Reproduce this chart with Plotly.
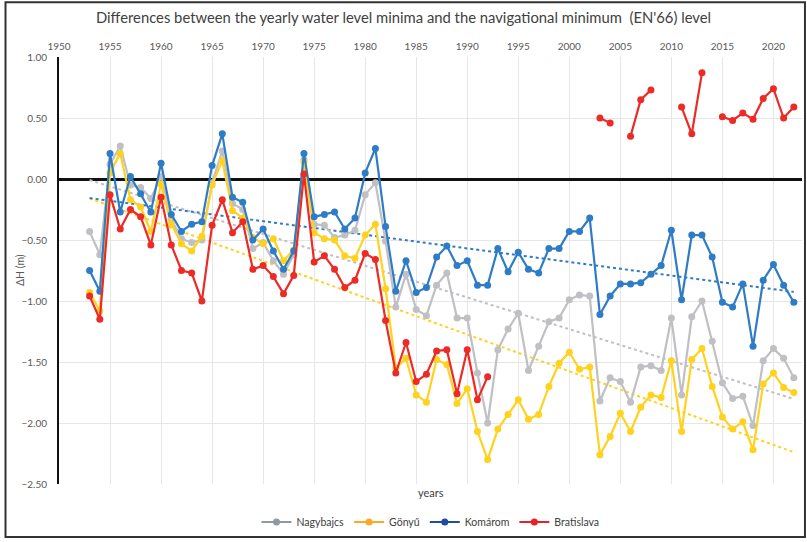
import plotly.graph_objects as go
import numpy as np

years = list(range(1953, 2023))

nagybajcs = [
    -0.43, -0.62, 0.12, 0.27, -0.05, -0.07, -0.16, 0.02, -0.33, -0.49,
    -0.52, -0.50, -0.03, 0.23, -0.20, -0.25, -0.57, -0.52, -0.67, -0.78,
    -0.62, 0.16, -0.37, -0.38, -0.48, -0.46, -0.42, -0.13, -0.03, -0.51,
    -1.05, -0.78, -1.07, -1.12, -0.87, -0.77, -1.14, -1.14, -1.59, -2.00,
    -1.40, -1.23, -1.10, -1.57, -1.37, -1.17, -1.14, -0.99, -0.95, -0.96,
    -1.82, -1.63, -1.66, -1.83, -1.54, -1.53, -1.57, -1.14, -1.77, -1.13,
    -1.00, -1.33, -1.67, -1.80, -1.78, -2.02, -1.49, -1.39, -1.47, -1.63,
]
gonyu = [
    -0.93, -1.08, 0.05, 0.21, -0.17, -0.23, -0.43, -0.04, -0.37, -0.53,
    -0.59, -0.47, -0.05, 0.15, -0.26, -0.32, -0.48, -0.53, -0.49, -0.67,
    -0.58, 0.14, -0.44, -0.49, -0.50, -0.63, -0.65, -0.46, -0.37, -0.90,
    -1.55, -1.47, -1.77, -1.83, -1.48, -1.52, -1.84, -1.72, -2.07, -2.30,
    -2.05, -1.93, -1.81, -1.97, -1.93, -1.70, -1.51, -1.42, -1.56, -1.54,
    -2.26, -2.11, -1.92, -2.07, -1.87, -1.77, -1.79, -1.49, -2.07, -1.48,
    -1.39, -1.70, -1.95, -2.05, -1.99, -2.22, -1.68, -1.59, -1.71, -1.75,
]
komarom = [
    -0.75, -0.92, 0.21, -0.27, 0.02, -0.12, -0.27, 0.13, -0.29, -0.43,
    -0.37, -0.35, 0.11, 0.37, -0.15, -0.19, -0.50, -0.41, -0.59, -0.74,
    -0.59, 0.21, -0.31, -0.29, -0.27, -0.41, -0.32, 0.05, 0.25, -0.39,
    -0.92, -0.67, -0.93, -0.89, -0.64, -0.55, -0.71, -0.67, -0.87, -0.87,
    -0.57, -0.76, -0.60, -0.74, -0.77, -0.57, -0.57, -0.43, -0.43, -0.32,
    -1.11, -0.96, -0.86, -0.86, -0.85, -0.78, -0.71, -0.42, -0.99, -0.46,
    -0.46, -0.64, -1.01, -1.05, -0.86, -1.37, -0.83, -0.70, -0.87, -1.01,
]
bratislava = [
    -0.96, -1.15, -0.13, -0.41, -0.25, -0.31, -0.54, -0.15, -0.54, -0.75,
    -0.77, -1.00, -0.38, -0.17, -0.44, -0.35, -0.74, -0.71, -0.80, -0.94,
    -0.79, 0.04, -0.68, -0.63, -0.74, -0.89, -0.83, -0.61, -0.66, -1.16,
    -1.59, -1.34, -1.66, -1.60, -1.41, -1.40, -1.76, -1.40, -1.81, -1.62,
    None, None, None, None, None, None, None, None, None, None,
    0.50, 0.46, None, 0.35, 0.65, 0.73, None, None, 0.59, 0.37,
    0.87, None, 0.51, 0.48, 0.54, 0.49, 0.66, 0.74, 0.50, 0.59,
]

series = [
    ("Nagybajcs", nagybajcs, "#C0C0C4", "#8E99A4", True),
    ("Gönyű", gonyu, "#FFD21F", "#FFA726", True),
    ("Komárom", komarom, "#2F7CC6", "#1F4E9E", True),
    ("Bratislava", bratislava, "#EC2A26", "#E8202A", False),
]

font = "Lato"
fig = go.Figure()

# linear trends (dotted), like Excel trendline
for name, vals, col, _, trend in series:
    if not trend:
        continue
    k, b = np.polyfit(years, vals, 1)
    fig.add_trace(go.Scatter(
        x=[years[0], years[-1]], y=[k * years[0] + b, k * years[-1] + b],
        mode="lines", line=dict(color=col, width=2, dash="dot"),
        showlegend=False, hoverinfo="skip",
    ))

for name, vals, col, _, _ in series:
    fig.add_trace(go.Scatter(
        x=years, y=vals, mode="lines+markers", name=name,
        line=dict(color=col, width=2.2), marker=dict(color=col, size=7),
        connectgaps=False, showlegend=False,
    ))

# legend entries (the legend in the original uses darker tones)
for name, vals, _, lcol, _ in series:
    fig.add_trace(go.Scatter(
        x=[None], y=[None], mode="lines+markers", name=name,
        line=dict(color=lcol, width=2.2), marker=dict(color=lcol, size=7),
    ))

fig.update_layout(
    width=807, height=542,
    margin=dict(l=59, r=5, t=57, b=56),
    paper_bgcolor="white", plot_bgcolor="white",
    font=dict(family=font, size=10, color="#595959"),
    title=dict(
        text="Differences between the yearly water level minima and the navigational minimum  (EN'66) level",
        x=0.5, xref="container", xanchor="center", y=0.967, yanchor="middle",
        font=dict(family=font, size=14.8, color="#404040"),
    ),
    xaxis=dict(
        side="top", range=[1950, 2022.8], dtick=5, tick0=1950,
        showgrid=True, gridcolor="#E6E6E6", gridwidth=1,
        zeroline=False, showline=False, ticks="", ticklabelstandoff=4,
        tickfont=dict(size=10, color="#595959"),
    ),
    yaxis=dict(
        range=[-2.5, 1.0], dtick=0.5, tickformat=".2f",
        showgrid=True, gridcolor="#E6E6E6", gridwidth=1,
        zeroline=True, zerolinecolor="#111111", zerolinewidth=2.5,
        showline=True, linecolor="#111111", linewidth=2, ticks="",
        ticklabelstandoff=8,
        tickfont=dict(size=10, color="#595959"),
    ),
    legend=dict(
        orientation="h", x=0.5, xanchor="center", y=-0.089, yanchor="middle",
        font=dict(size=10.5, color="#404040"), bgcolor="rgba(0,0,0,0)",
        itemwidth=30, tracegroupgap=0,
    ),
    annotations=[
        dict(
            text="years", x=0.5, y=-0.021, xref="paper", yref="paper",
            xanchor="center", yanchor="middle", showarrow=False,
            font=dict(size=11, color="#404040"),
        ),
        dict(
            text="ΔH (m)", x=-0.053, y=0.5, xref="paper", yref="paper",
            xanchor="center", yanchor="middle", showarrow=False, textangle=-90,
            font=dict(size=10.5, color="#595959"),
        ),
    ],
    shapes=[dict(
        type="rect", xref="paper", yref="paper",
        x0=-0.072, x1=1.004, y0=-0.124, y1=1.128,
        line=dict(color="#333333", width=2), layer="below",
    )],
)

# the page gets no body margin so the figure fills the 807x542 window
fig.write_html(
    "out.html",
    config={"displayModeBar": False},
    post_script="document.body.style.margin='0';",
)
